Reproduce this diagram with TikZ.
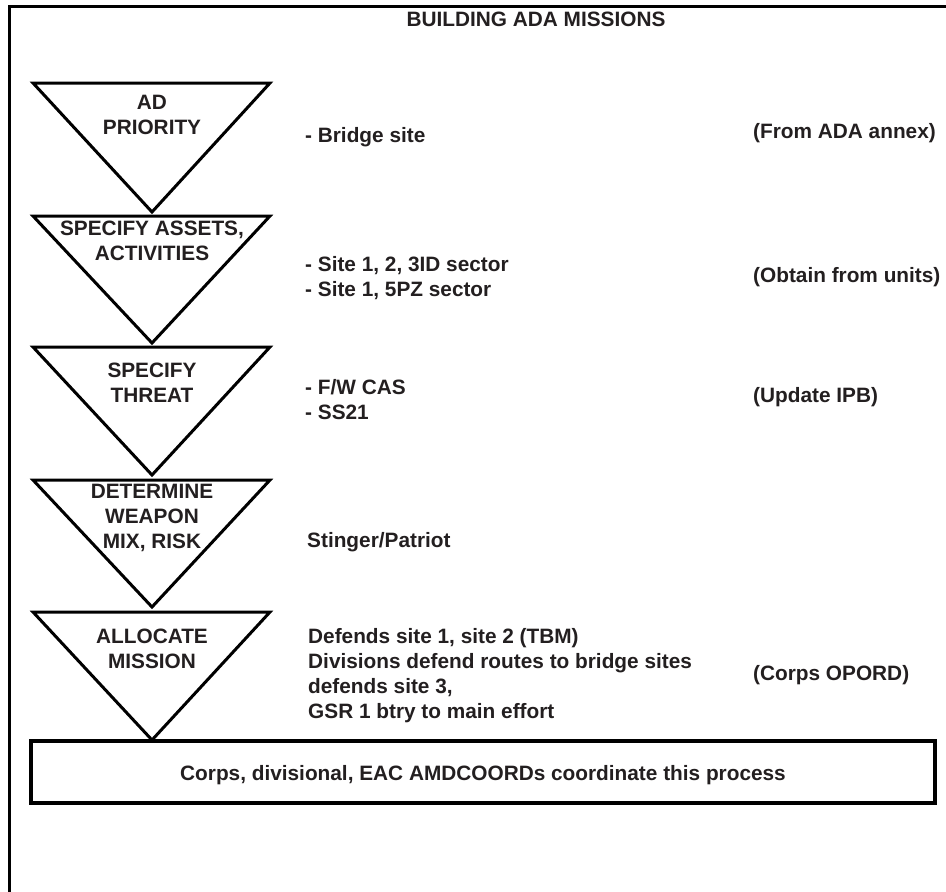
\documentclass[tikz,border=0pt]{standalone}
\usepackage{fontspec}
\setmainfont{Liberation Sans}
\definecolor{ink}{RGB}{35,31,32}
\begin{document}
\begin{tikzpicture}[x=1pt,y=-1pt,
  lbl/.style={font=\fontsize{20.8}{25}\selectfont\bfseries, text=ink, inner sep=0pt},
  steplbl/.style={lbl, align=center},
  note/.style={lbl, align=left, anchor=west},
  tri/.style={draw=black, line width=3pt, line join=miter, fill=white},
  frame/.style={draw=black, line width=3pt},
  base/.style={draw=black, line width=3.5pt, fill=white}]
\useasboundingbox (0,0) rectangle (946,892);
\clip (0,0) rectangle (946,892);
% outer frame, open towards the right and bottom edges
\draw[frame] (960,6) -- (9,6) -- (9,905);
\node[lbl] (title) at (536,19) {BUILDING ADA MISSIONS};

% funnel of process steps
\coordinate (t1a) at (33,83);  \coordinate (t1b) at (270,83);  \coordinate (t1c) at (152,212);
\coordinate (t2a) at (33,216); \coordinate (t2b) at (270,216); \coordinate (t2c) at (152,343);
\coordinate (t3a) at (33,347); \coordinate (t3b) at (270,347); \coordinate (t3c) at (152,475);
\coordinate (t4a) at (33,480); \coordinate (t4b) at (270,480); \coordinate (t4c) at (152,607);
\coordinate (t5a) at (33,612); \coordinate (t5b) at (270,612); \coordinate (t5c) at (152,740);
\draw[tri] (t1a) -- (t1b) -- (t1c) -- cycle;
\draw[tri] (t2a) -- (t2b) -- (t2c) -- cycle;
\draw[tri] (t3a) -- (t3b) -- (t3c) -- cycle;
\draw[tri] (t4a) -- (t4b) -- (t4c) -- cycle;
\draw[tri] (t5a) -- (t5b) -- (t5c) -- cycle;

\node[steplbl] (s1) at (152,114.5) {AD\\PRIORITY};
\node[steplbl] (s2) at (152,240.5) {SPECIFY ASSETS,\\ACTIVITIES};
\node[steplbl] (s3) at (152,382.5) {SPECIFY\\THREAT};
\node[steplbl] (s4) at (152,518) {DETERMINE\\WEAPON\\MIX, RISK};
\node[steplbl] (s5) at (152,648.5) {ALLOCATE\\MISSION};

% details of each step
\node[note] (d1) at (305,137) {- Bridge site};
\node[note] (d2) at (305,278) {- Site 1, 2, 3ID sector\\- Site 1, 5PZ sector};
\node[note] (d3) at (305,400) {- F/W CAS\\- SS21};
\node[note] (d4) at (307,542) {Stinger/Patriot};
\node[note] (d5) at (308,675.5) {Defends site 1, site 2 (TBM)\\Divisions defend routes to bridge sites\\defends site 3,\\GSR 1 btry to main effort};

% sources
\node[note] (r1) at (753,133) {(From ADA annex)};
\node[note] (r2) at (753,277) {(Obtain from units)};
\node[note] (r3) at (753,397) {(Update IPB)};
\node[note] (r4) at (753,675) {(Corps OPORD)};

% coordinating box
\node[base, minimum width=904pt, minimum height=62pt, inner sep=0pt] (coord) at (483,772) {};
\node[lbl, yshift=-3pt] (coordtext) at (coord.center) {Corps, divisional, EAC AMDCOORDs coordinate this process};
\end{tikzpicture}
\end{document}
